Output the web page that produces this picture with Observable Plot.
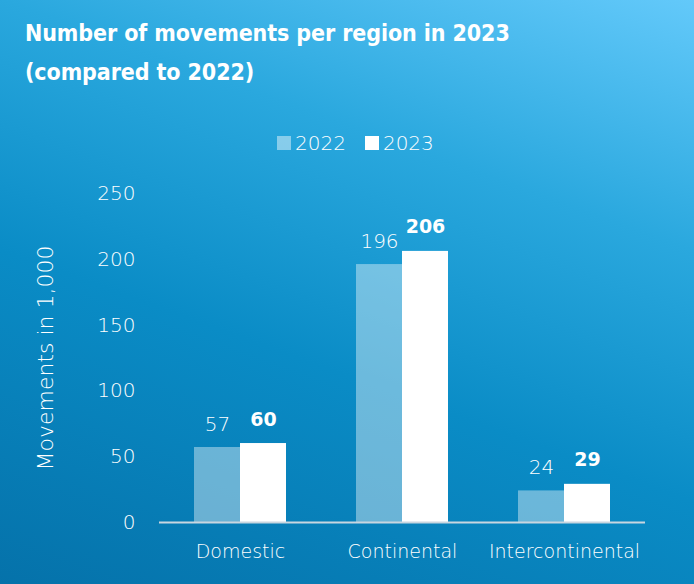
<!DOCTYPE html>
<html>
<head>
<meta charset="utf-8">
<script src="https://cdn.jsdelivr.net/npm/d3@7"></script>
<script src="https://cdn.jsdelivr.net/npm/@observablehq/plot@0.6"></script>
<style>
  html, body { margin: 0; padding: 0; }
  #wrap {
    position: relative; width: 694px; height: 584px; overflow: hidden;
    background: linear-gradient(200deg, #63c9fa 0%, #2aa8de 30%, #0a8cc6 60%, #0572aa 100%);
    font-family: "DejaVu Sans", sans-serif;
    color: #fff;
  }
  #title {
    position: absolute; left: 25px; top: 14px;
    font-family: "DejaVu Sans Condensed", sans-serif; font-weight: bold;
    font-size: 23px; line-height: 39px; letter-spacing: -0.1px;
  }
  #legend {
    position: absolute; top: 131px; left: 277px; display: flex; gap: 19px;
    font-family: "DejaVu Sans", sans-serif; font-weight: 200; font-size: 20px; align-items: center;
  }
  #legend span.sw { display: inline-block; width: 14px; height: 14px; margin-right: 4px; vertical-align: 0px; }
  #chart { position: absolute; left: 0; top: 170px; }
</style>
</head>
<body>
<div id="wrap">
  <div id="title">Number of movements per region in 2023<br>(compared to 2022)</div>
  <div id="legend"></div>
  <div id="chart"></div>
</div>
<script>
const regions = ["Domestic", "Continental", "Intercontinental"];
const years = ["2022", "2023"];
const values2022 = [57, 196, 24];
const values2023 = [60, 206, 29];
const yTicks = [0, 50, 100, 150, 200, 250];

const data = [];
regions.forEach((r, i) => {
  data.push({region: r, year: years[0], value: values2022[i]});
  data.push({region: r, year: years[1], value: values2023[i]});
});

const fillFor = {"2022": "rgba(255,255,255,0.40)", "2023": "#ffffff"};

const legend = document.getElementById("legend");
years.forEach(y => {
  const d = document.createElement("div");
  d.innerHTML = `<span class="sw" style="background:${y === "2022" ? "rgba(255,255,255,0.45)" : "#fff"}"></span>${y}`;
  legend.appendChild(d);
});

const plot = Plot.plot({
  width: 694,
  height: 414,
  marginTop: 23,
  marginBottom: 62,
  marginLeft: 159,
  marginRight: 49,
  style: {fontFamily: "'DejaVu Sans', sans-serif", fontSize: "19px", fontWeight: 200, color: "#fff", background: "transparent"},
  fx: {domain: regions, padding: 0, label: null, axis: null},
  x: {domain: years, paddingInner: 0, paddingOuter: 0.76, axis: null},
  y: {domain: [0, 250], ticks: yTicks, label: "Movements in 1,000"},
  marks: [
    Plot.axisFx({anchor: "bottom", tickSize: 0, tickPadding: 22, label: null, fontSize: 19}),
    Plot.axisY(yTicks, {tickSize: 0, tickPadding: 24, label: "Movements in 1,000", labelAnchor: "center", labelArrow: "none", labelOffset: 122, fontSize: 22}),
    Plot.axisY(yTicks, {tickSize: 0, tickPadding: 24, label: null, fontSize: 20}),
    Plot.barY(data, {fx: "region", x: "year", y: "value", fill: d => fillFor[d.year], inset: 0}),
    Plot.ruleY([0], {stroke: "#c9d6e0", strokeWidth: 2}),
    Plot.text(data.filter(d => d.year === "2022"), {fx: "region", x: "year", y: "value", text: d => String(d.value), dy: -23, fill: "#fff", fontSize: 20, fontWeight: 200}),
    Plot.text(data.filter(d => d.year === "2023"), {fx: "region", x: "year", y: "value", text: d => String(d.value), dy: -24, fill: "#fff", fontSize: 19, fontWeight: "bold"})
  ]
});
// keep tick labels at 20px while the axis title uses the larger size
const axes = plot.querySelectorAll("g[aria-label='y-axis tick label']");
if (axes.length > 1) axes[0].remove();
document.getElementById("chart").appendChild(plot);
</script>
</body>
</html>
